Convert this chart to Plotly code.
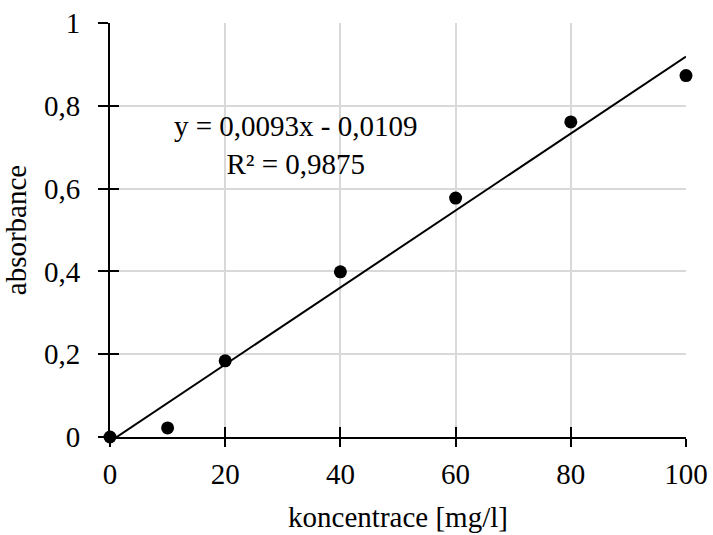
import plotly.graph_objects as go

# measured absorbance vs. concentration
konc = [0, 10, 20, 40, 60, 80, 100]
absorbance = [0, 0.022, 0.184, 0.399, 0.577, 0.761, 0.873]

# linear trendline parameters
slope = 0.0093
intercept = -0.0109
r2 = 0.9875

x_title = "koncentrace [mg/l]"
y_title = "absorbance"

FONT = "Liberation Serif"
FS = 29
GRID = "#d9d9d9"


def cz(v, nd):
    return f"{abs(v):.{nd}f}".replace(".", ",")


sign = "-" if intercept < 0 else "+"
eq_text = f"y = {cz(slope, 4)}x {sign} {cz(intercept, 4)}<br>R² = {cz(r2, 4)}"

trend_x = [konc[0], konc[-1]]
trend_y = [slope * v + intercept for v in trend_x]

fig = go.Figure()

fig.add_trace(go.Scatter(
    x=trend_x, y=trend_y, mode="lines",
    line=dict(color="black", width=2),
    showlegend=False, hoverinfo="skip",
))
fig.add_trace(go.Scatter(
    x=konc, y=absorbance, mode="markers",
    marker=dict(color="black", size=13),
    cliponaxis=False, showlegend=False,
))
# companion axes carrying the inward half of the crossing tick marks
fig.add_trace(go.Scatter(
    x=[None], y=[None], xaxis="x2", yaxis="y2",
    showlegend=False, hoverinfo="skip",
))

axis_common = dict(
    showline=True, linecolor="black", linewidth=2,
    ticks="outside", tickcolor="black", tickwidth=2,
    gridcolor=GRID, gridwidth=1.5, zeroline=False, automargin=False,
    tickfont=dict(family=FONT, size=FS, color="black"),
)

fig.update_layout(
    width=713, height=535,
    margin=dict(l=110, r=27, t=23, b=98),
    paper_bgcolor="white", plot_bgcolor="white",
    separators=", ",
    font=dict(family=FONT, size=FS, color="black"),
    xaxis=dict(
        range=[0, 100], dtick=20, ticklen=8, ticklabelstandoff=2,
        title=dict(text=x_title, font=dict(family=FONT, size=FS), standoff=18),
        **axis_common,
    ),
    yaxis=dict(
        range=[0, 1], dtick=0.2, ticklen=10, ticklabelstandoff=12,
        title=dict(text=y_title, font=dict(family=FONT, size=FS), standoff=10),
        **axis_common,
    ),
    xaxis2=dict(
        overlaying="x", matches="x", range=[0, 100], dtick=20,
        ticks="inside", ticklen=10, tickwidth=2, tickcolor="black",
        showticklabels=False, showgrid=False, showline=False, zeroline=False,
        automargin=False,
    ),
    yaxis2=dict(
        overlaying="y", matches="y", range=[0, 1], dtick=0.2,
        ticks="inside", ticklen=9, tickwidth=2, tickcolor="black",
        showticklabels=False, showgrid=False, showline=False, zeroline=False,
        automargin=False,
    ),
    annotations=[dict(
        x=32.3, y=0.705, xref="x", yref="y",
        text=eq_text, showarrow=False, align="center",
        font=dict(family=FONT, size=FS, color="black"),
    )],
)

fig.write_html("out.html")
